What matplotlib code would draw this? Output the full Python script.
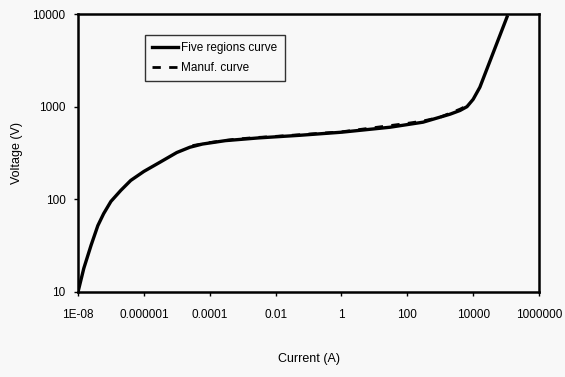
import matplotlib.pyplot as plt
from matplotlib.ticker import FixedLocator, FixedFormatter, NullLocator

plt.rcParams['font.family'] = ['Liberation Sans Narrow', 'Liberation Sans', 'DejaVu Sans']

# five regions model curve
current_model = [1e-8, 1.5e-8, 2.5e-8, 4e-8, 6e-8, 1e-7, 2e-7, 4e-7, 1e-6,
                 3e-6, 1e-5, 2.5e-5, 6e-5, 3e-4, 3e-3, 0.05, 1, 30, 300,
                 2000, 4000, 6500, 1e4, 1.6e4, 1.07e5]
voltage_model = [10, 18, 32, 52, 70, 95, 125, 160, 200,
                 250, 320, 365, 395, 430, 460, 490, 530, 600, 680,
                 830, 910, 1000, 1200, 1620, 9300]

# manufacturer's datasheet curve
current_manuf = [3e-5, 1e-4, 5e-4, 2e-3, 1e-2, 1, 30, 100, 300, 1000, 4000, 6000]
voltage_manuf = [380, 410, 442, 462, 478, 535, 625, 660, 700, 770, 940, 1010]

x_ticks = [1e-8, 1e-6, 1e-4, 1e-2, 1, 100, 1e4, 1e6]
x_labels = ['1E-08', '0.000001', '0.0001', '0.01', '1', '100', '10000', '1000000']
y_ticks = [10, 100, 1000, 10000]
y_labels = ['10', '100', '1000', '10000']

fig = plt.figure(figsize=(5.65, 3.77), dpi=100, facecolor='#f8f8f8')
ax = fig.add_axes([78 / 565, 1 - 292 / 377, 461 / 565, 278 / 377])
ax.set_facecolor('#f8f8f8')

ax.plot(current_manuf, voltage_manuf, color='black', lw=2.0, ls=(0, (3, 3)),
        label='Manuf. curve')
ax.plot(current_model, voltage_model, color='black', lw=2.4,
        label='Five regions curve')

ax.set_xscale('log')
ax.set_yscale('log')
ax.set_xlim(1e-8, 1e6)
ax.set_ylim(10, 10000)

ax.xaxis.set_major_locator(FixedLocator(x_ticks))
ax.xaxis.set_major_formatter(FixedFormatter(x_labels))
ax.xaxis.set_minor_locator(NullLocator())
ax.yaxis.set_major_locator(FixedLocator(y_ticks))
ax.yaxis.set_major_formatter(FixedFormatter(y_labels))
ax.yaxis.set_minor_locator(NullLocator())
ax.tick_params(axis='both', direction='out', length=3, width=1,
               labelsize=8.5, pad=6)
ax.tick_params(axis='x', pad=9)
for s in ax.spines.values():
    s.set_linewidth(1.8)

ax.set_ylabel('Voltage (V)', fontsize=9)
ax.yaxis.set_label_coords(-0.12, 0.5)
ax.set_xlabel('Current (A)', fontsize=9)
ax.xaxis.set_label_coords(0.5, -0.22)

handles, labels = ax.get_legend_handles_labels()
leg = ax.legend(handles[::-1], labels[::-1], loc='upper left',
                bbox_to_anchor=(0.145, 0.925), borderaxespad=0,
                fontsize=8.5, frameon=True,
                fancybox=False, edgecolor='black', facecolor='#f8f8f8',
                handlelength=2.2, borderpad=0.6, labelspacing=0.7,
                handletextpad=0.3)
leg.get_frame().set_linewidth(1.0)

fig.savefig('out.png', dpi=100, facecolor='#f8f8f8')
